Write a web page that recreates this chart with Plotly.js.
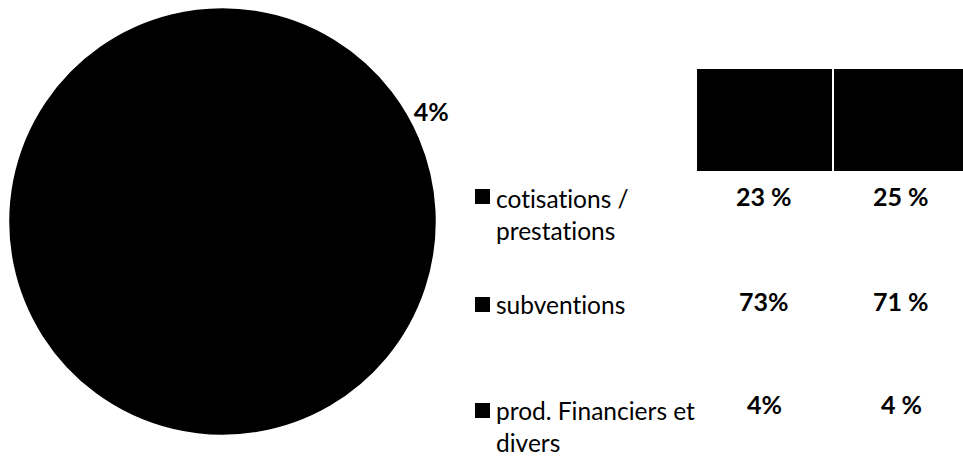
<!DOCTYPE html>
<html>
<head>
<meta charset="utf-8">
<script src="https://cdn.plot.ly/plotly-3.0.1.min.js"></script>
<style>html,body{margin:0;padding:0;background:#fff;}#chart{width:963px;height:457px;}
#chart text{font-variant-ligatures:none;font-feature-settings:"liga" 0;}</style>
</head>
<body>
<div id="chart"></div>
<script>
// ---- data ----
var categories = ['cotisations /<br>prestations', 'subventions', 'prod. Financiers et<br>divers'];
var shares1 = [23, 73, 4];
var shares2 = [25, 71, 4];
var col1Labels = ['23 %', '73%', '4%'];
var col2Labels = ['25 %', '71 %', '4 %'];
var pieLabelShown = [false, false, true];

// ---- layout helpers (pixel -> paper) ----
var W = 963, H = 457;
function px(x) { return x / W; }
function py(y) { return 1 - y / H; }

var FONT = 'Lato, "Open Sans", sans-serif';

var pieTrace = {
  type: 'pie',
  labels: categories,
  values: shares1,
  sort: false,
  direction: 'clockwise',
  rotation: 67,
  marker: { colors: ['#000000', '#000000', '#000000'], line: { width: 1.5, color: '#000000' } },
  texttemplate: pieLabelShown.map(function (s) { return s ? '<b>%{percent:.0%}</b>' : ''; }),
  textposition: pieLabelShown.map(function (s) { return s ? 'outside' : 'none'; }),
  outsidetextfont: { family: FONT, size: 25, color: '#000', weight: 'bold' },
  domain: { x: [px(10), px(435)], y: [py(437), py(6)] },
  showlegend: false,
  hoverinfo: 'none'
};

var rowY = [196, 301, 404];
var labelY = [214, 304, 426];
var squareY = [189, 297, 403];

var annotations = [];
var shapes = [];

// header cells
shapes.push({ type: 'rect', xref: 'paper', yref: 'paper', x0: px(697), x1: px(832), y0: py(171), y1: py(69), fillcolor: '#000', line: { width: 0 } });
shapes.push({ type: 'rect', xref: 'paper', yref: 'paper', x0: px(834), x1: px(963), y0: py(171), y1: py(69), fillcolor: '#000', line: { width: 0 } });

for (var i = 0; i < categories.length; i++) {
  shapes.push({ type: 'rect', xref: 'paper', yref: 'paper', x0: px(475), x1: px(490), y0: py(squareY[i] + 15), y1: py(squareY[i]), fillcolor: '#000', line: { width: 0 } });
  annotations.push({ xref: 'paper', yref: 'paper', x: px(494), y: py(labelY[i]), xanchor: 'left', yanchor: 'middle', align: 'left', showarrow: false, text: categories[i], font: { family: FONT, size: 24.5, color: '#000' } });
  annotations.push({ xref: 'paper', yref: 'paper', x: px(764), y: py(rowY[i]), xanchor: 'center', yanchor: 'middle', showarrow: false, text: col1Labels[i], font: { family: FONT, size: 25, color: '#000', weight: 'bold' } });
  annotations.push({ xref: 'paper', yref: 'paper', x: px(901), y: py(rowY[i]), xanchor: 'center', yanchor: 'middle', showarrow: false, text: col2Labels[i], font: { family: FONT, size: 25, color: '#000', weight: 'bold' } });
}

var layout = {
  width: W, height: H,
  margin: { l: 0, r: 0, t: 0, b: 0 },
  paper_bgcolor: '#fff', plot_bgcolor: '#fff',
  shapes: shapes,
  annotations: annotations,
  showlegend: false
};

Plotly.newPlot('chart', [pieTrace], layout, { displayModeBar: false, staticPlot: true });
</script>
</body>
</html>
